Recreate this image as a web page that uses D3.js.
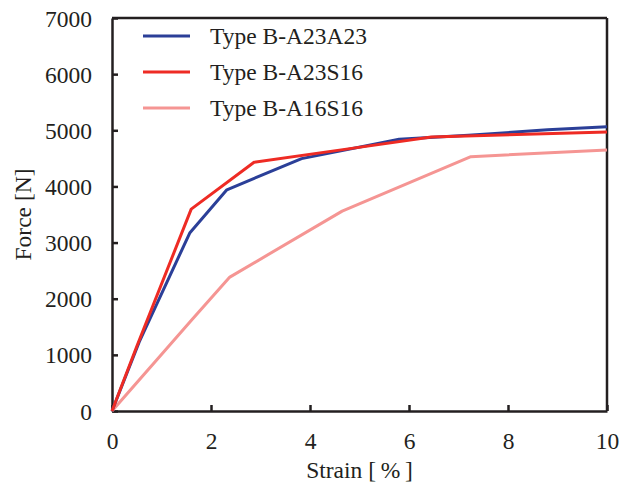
<!DOCTYPE html>
<html>
<head>
<meta charset="utf-8">
<script src="https://cdn.jsdelivr.net/npm/d3@7"></script>
<style>
  body { margin: 0; background: #fff; }
  text { font-family: "Liberation Serif", "Times New Roman", serif; fill: #231f20; }
</style>
</head>
<body>
<div id="chart"></div>
<script>
// series data (strain %, force N)
var seriesNames = ["Type B-A23A23", "Type B-A23S16", "Type B-A16S16"];
var seriesColors = ["#2b3f98", "#ee2b24", "#f59593"];
var a23a23 = [[0,0],[0.55,1230],[1.57,3170],[2.32,3940],[3.83,4495],[5.8,4840],[7.2,4910],[8.8,5010],[10,5065]];
var a23s16 = [[0,0],[0.5,1150],[1.6,3595],[2.87,4430],[4.7,4660],[6.45,4880],[10,4970]];
var a16s16 = [[0,0],[1.6,1610],[2.38,2385],[4.65,3560],[7.25,4530],[10,4650]];
var xTicks = [0, 2, 4, 6, 8, 10];
var yTicks = [0, 1000, 2000, 3000, 4000, 5000, 6000, 7000];

var W = 627, H = 487;
var margin = {top: 18, right: 20, bottom: 76, left: 112};
var width = W - margin.left - margin.right,
    height = H - margin.top - margin.bottom;
var fontSize = "23.5px";

var svg = d3.select("#chart").append("svg")
    .attr("width", W)
    .attr("height", H);
var g = svg.append("g").attr("transform", "translate(" + margin.left + "," + margin.top + ")");

var x = d3.scaleLinear().domain([0, 10]).range([0, width]);
var y = d3.scaleLinear().domain([0, 7000]).range([height, 0]);

// frame lines top + right
g.append("line").attr("x1", 0).attr("x2", width).attr("y1", 0).attr("y2", 0)
    .attr("stroke", "#231f20").attr("stroke-width", 2.5);
g.append("line").attr("x1", width).attr("x2", width).attr("y1", 0).attr("y2", height)
    .attr("stroke", "#231f20").attr("stroke-width", 2.5);

var xAxis = g.append("g")
    .attr("transform", "translate(0," + height + ")")
    .call(d3.axisBottom(x).tickValues(xTicks).tickFormat(d3.format("d"))
        .tickSizeInner(-6).tickSizeOuter(0).tickPadding(18));
var yAxis = g.append("g")
    .call(d3.axisLeft(y).tickValues(yTicks).tickFormat(d3.format("d"))
        .tickSizeInner(-6).tickSizeOuter(0).tickPadding(20));

[xAxis, yAxis].forEach(function(ax) {
    ax.attr("font-family", null).attr("font-size", null);
    ax.select(".domain").attr("stroke", "#231f20").attr("stroke-width", 2.5);
    ax.selectAll(".tick line").attr("stroke", "#231f20").attr("stroke-width", 2.5);
    ax.selectAll(".tick text")
        .style("font-size", fontSize)
        .attr("fill", "#231f20");
});
xAxis.selectAll(".tick text").attr("dy", "0.71em").attr("y", 21);
yAxis.selectAll(".tick text").attr("dy", "0.34em");

var line = d3.line()
    .x(function(d) { return x(d[0]); })
    .y(function(d) { return y(d[1]); });

var allSeries = [a23a23, a23s16, a16s16];
// pink first, then blue, red on top
[2, 0, 1].forEach(function(i) {
    g.append("path")
        .datum(allSeries[i])
        .attr("fill", "none")
        .attr("stroke", seriesColors[i])
        .attr("stroke-width", 3)
        .attr("stroke-linejoin", "round")
        .attr("d", line);
});

// legend
var legend = svg.append("g");
seriesNames.forEach(function(name, i) {
    var ly = 36 + i * 36;
    legend.append("line")
        .attr("x1", 143).attr("x2", 190)
        .attr("y1", ly).attr("y2", ly)
        .attr("stroke", seriesColors[i])
        .attr("stroke-width", 3);
    legend.append("text")
        .attr("x", 210).attr("y", ly + 8)
        .style("font-size", fontSize)
        .text(name);
});

// axis titles
svg.append("text")
    .attr("x", margin.left + width / 2)
    .attr("y", 478)
    .attr("text-anchor", "middle")
    .style("font-size", fontSize)
    .text("Strain [\u2009%\u2009]");

svg.append("text")
    .attr("transform", "translate(31," + (margin.top + height / 2) + ") rotate(-90)")
    .attr("text-anchor", "middle")
    .style("font-size", fontSize)
    .text("Force [N]");
</script>
</body>
</html>
